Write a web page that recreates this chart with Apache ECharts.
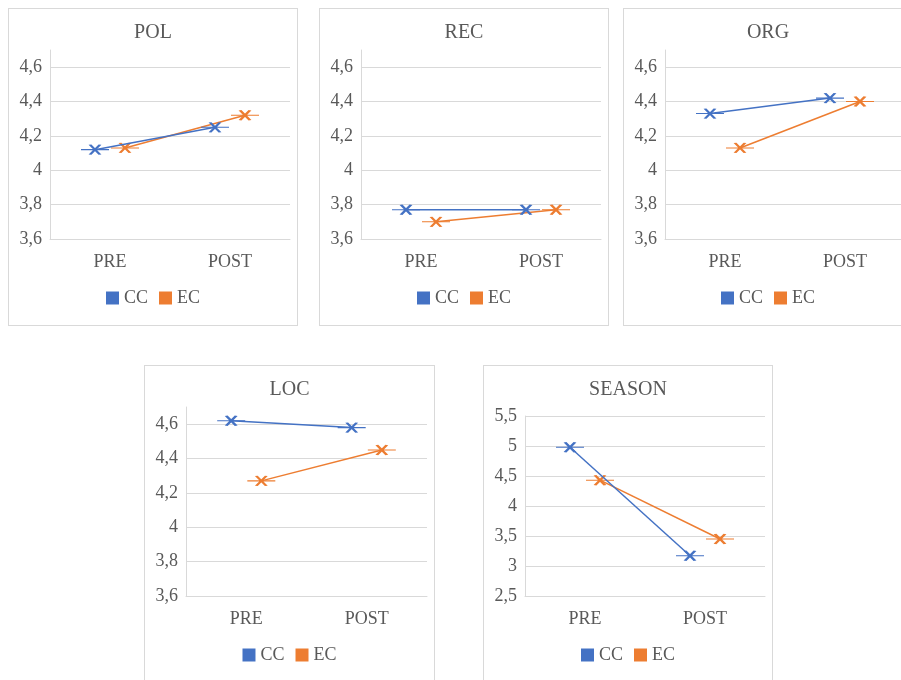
<!DOCTYPE html>
<html>
	<head>
		<meta charset="utf-8">
		<title>PRE / POST</title>
		<script src="https://cdn.jsdelivr.net/npm/echarts@6/dist/echarts.min.js"></script>
		<style type="text/css">
			body {
				margin: 0;
				width: 901px;
				height: 680px;
				overflow: hidden;
				position: relative;
				background: #fff;
			}
			.panel {
				position: absolute;
				border: 1px solid #d9d9d9;
			}
		</style>
	</head>
	<body>
		<div class="panel" id="pol" style="left:8px;top:8px;width:288px;height:316px;"></div>
		<div class="panel" id="rec" style="left:319px;top:8px;width:288px;height:316px;"></div>
		<div class="panel" id="org" style="left:623px;top:8px;width:288px;height:316px;"></div>
		<div class="panel" id="loc" style="left:144px;top:365px;width:289px;height:330px;"></div>
		<div class="panel" id="season" style="left:483px;top:365px;width:288px;height:330px;"></div>

		<script type="text/javascript">
			// 数据
			var categories = ['PRE', 'POST'];
			var seriesNames = ['CC', 'EC'];

			var polCC = [4.12, 4.25];
			var polEC = [4.13, 4.32];
			var recCC = [3.77, 3.77];
			var recEC = [3.70, 3.77];
			var orgCC = [4.33, 4.42];
			var orgEC = [4.13, 4.40];
			var locCC = [4.62, 4.58];
			var locEC = [4.27, 4.45];
			var seasonCC = [4.98, 3.17];
			var seasonEC = [4.43, 3.45];

			var BLUE = '#4472C4';
			var ORANGE = '#ED7D31';
			var TEXT = '#595959';
			var GRID = '#d9d9d9';
			var FONT = '"Liberation Serif", "Times New Roman", serif';
			// x 记号 + 横线
			var MARK = 'path://M0,5 L28,5 M9,0 L19,10 M9,10 L19,0';
			var SHIFT = 0.125; // CC 左移, EC 右移

			function toPoints(values, shift) {
				var pts = [];
				for (var i = 0; i < values.length; i++) {
					pts.push([i + shift, values[i]]);
				}
				return pts;
			}

			function makeSeries(name, values, shift, color) {
				return {
					name: name,
					type: 'line',
					xAxisIndex: 1,
					data: toPoints(values, shift),
					symbol: MARK,
					symbolSize: [28, 10],
					lineStyle: { color: color, width: 1.5 },
					itemStyle: { color: color, borderColor: color, borderWidth: 1.8 },
					emphasis: { disabled: true },
					z: name == 'CC' ? 3 : 2
				};
			}

			function drawPanel(id, title, cc, ec, y) {
				var chart = echarts.init(document.getElementById(id));
				chart.setOption({
					animation: false,
					title: {
						text: title,
						left: 'center',
						top: 9,
						textStyle: { fontFamily: FONT, fontSize: 20, fontWeight: 'normal', color: TEXT }
					},
					legend: {
						data: seriesNames,
						top: 275,
						left: 'center',
						icon: 'rect',
						itemWidth: 13,
						itemHeight: 13,
						itemGap: 11,
						itemStyle: { borderWidth: 0 },
						textStyle: { fontFamily: FONT, fontSize: 18, color: TEXT }
					},
					grid: { left: 41, right: 7, top: y.top, height: y.height },
					xAxis: [{
						type: 'category',
						data: categories,
						axisLine: { lineStyle: { color: GRID } },
						axisTick: { show: false },
						axisLabel: { fontFamily: FONT, fontSize: 18, color: TEXT, margin: 14 }
					}, {
						type: 'value',
						show: false,
						min: -0.5,
						max: 1.5,
						splitLine: { show: false }
					}],
					yAxis: {
						type: 'value',
						min: y.min,
						max: y.max,
						interval: y.step,
						axisLine: { show: true, onZero: false, lineStyle: { color: GRID } },
						axisTick: { show: false },
						splitLine: { lineStyle: { color: GRID }, showMaxLine: y.showMax },
						axisLabel: {
							fontFamily: FONT,
							fontSize: 18,
							color: TEXT,
							margin: 8,
							showMaxLabel: y.showMax,
							formatter: function(v) {
								return String(+v.toFixed(1)).replace('.', ',');
							}
						}
					},
					series: [
						makeSeries('CC', cc, -SHIFT, BLUE),
						makeSeries('EC', ec, SHIFT, ORANGE)
					]
				});
			}

			var smallAxis = { min: 3.6, max: 4.7, step: 0.2, top: 41, height: 189, showMax: false };
			var seasonAxis = { min: 2.5, max: 5.5, step: 0.5, top: 50, height: 180, showMax: true };

			drawPanel('pol', 'POL', polCC, polEC, smallAxis);
			drawPanel('rec', 'REC', recCC, recEC, smallAxis);
			drawPanel('org', 'ORG', orgCC, orgEC, smallAxis);
			drawPanel('loc', 'LOC', locCC, locEC, smallAxis);
			drawPanel('season', 'SEASON', seasonCC, seasonEC, seasonAxis);
		</script>
	</body>
</html>
